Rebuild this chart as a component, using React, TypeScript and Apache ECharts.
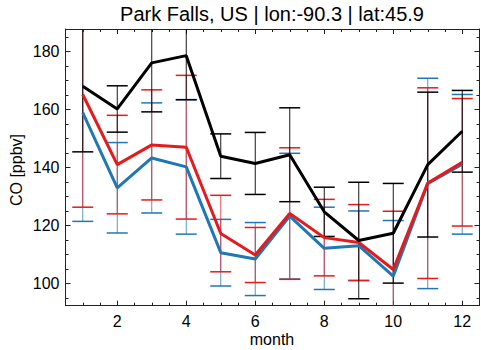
import React, { useEffect, useRef } from "react";
import * as echarts from "echarts";

const months = [1, 2, 3, 4, 5, 6, 7, 8, 9, 10, 11, 12];
const blackMean = [168.0, 160.2, 176.1, 178.6, 143.9, 141.4, 144.4, 124.7, 114.8, 117.3, 141.0, 152.5];
const blackErr = [22.6, 8.0, 16.9, 15.2, 7.7, 10.7, 16.2, 8.5, 20.1, 17.2, 25.0, 14.1];
const redMean = [165.2, 141.0, 147.8, 147.0, 117.2, 109.8, 124.1, 115.8, 114.1, 104.8, 134.6, 141.8];
const redErr = [38.9, 17.0, 19.0, 24.8, 13.2, 9.5, 22.7, 13.2, 13.1, 20.1, 32.9, 22.0];
const blueMean = [158.9, 133.0, 143.3, 140.2, 110.6, 108.4, 123.2, 112.1, 113.0, 102.5, 134.5, 141.1];
const blueErr = [37.5, 15.6, 19.0, 23.2, 11.5, 12.6, 21.7, 14.2, 12.0, 19.2, 36.3, 24.1];

const xMajor = [2, 4, 6, 8, 10, 12];
const xMinor = [1, 1.5, 2.5, 3, 3.5, 4.5, 5, 5.5, 6.5, 7, 7.5, 8.5, 9, 9.5, 10.5, 11, 11.5];
const yMajor = [100, 120, 140, 160, 180];
const yMinor = [95, 105, 110, 115, 125, 130, 135, 145, 150, 155, 165, 170, 175, 185];

const titleText = "Park Falls, US | lon:-90.3 | lat:45.9";
const yName = "CO [ppbv]";
const xName = "month";

const X_MIN = 0.5;
const X_MAX = 12.5;
const Y_MIN = 92.3;
const Y_MAX = 187.8;

const BLACK = "#000000";
const RED = "#e41a1c";
const BLUE = "#1f77b4";
const FONT = "Liberation Sans, Arial, Helvetica, sans-serif";

export default function App() {
  const ref = useRef<HTMLDivElement>(null);
  useEffect(() => {
    if (!ref.current) return;
    const chart = echarts.init(ref.current, undefined, { renderer: "svg" });

    const makeAxis = (
      kind: "x" | "y",
      position: string,
      ticks: number[],
      len: number,
      showLine: boolean,
      labels: boolean
    ) => ({
      type: "value",
      position,
      min: kind === "x" ? X_MIN : Y_MIN,
      max: kind === "x" ? X_MAX : Y_MAX,
      splitLine: { show: false },
      axisLine: { show: showLine, onZero: false, lineStyle: { color: "#222", width: 1 } },
      axisTick: {
        show: true,
        inside: true,
        length: len,
        customValues: ticks,
        lineStyle: { color: "#222", width: 1 },
      },
      axisLabel: {
        show: labels,
        customValues: ticks,
        color: "#000",
        fontSize: 16,
        fontFamily: FONT,
        margin: kind === "x" ? 8 : 6,
      },
    });

    const errSeries = (data: number[], err: number[], color: string, stemOpacity: number) => ({
      type: "custom",
      xAxisIndex: 0,
      yAxisIndex: 0,
      data: months.map((m, i) => [m, data[i], err[i]]),
      renderItem: (params: any, api: any) => {
        const x = api.value(0);
        const m = api.value(1);
        const s = api.value(2);
        const lo = m - s;
        const hi = m + s;
        const cl = Math.max(lo, Y_MIN);
        const ch = Math.min(hi, Y_MAX);
        const p1 = api.coord([x, cl]);
        const p2 = api.coord([x, ch]);
        const children: any[] = [
          {
            type: "line",
            shape: { x1: p1[0], y1: p1[1], x2: p2[0], y2: p2[1] },
            style: { stroke: color, lineWidth: 1, opacity: stemOpacity },
          },
        ];
        const hw = 10.5;
        if (hi <= Y_MAX) {
          const p = api.coord([x, hi]);
          children.push({
            type: "line",
            shape: { x1: p[0] - hw, y1: p[1], x2: p[0] + hw, y2: p[1] },
            style: { stroke: color, lineWidth: 1.5 },
          });
        }
        if (lo >= Y_MIN) {
          const p = api.coord([x, lo]);
          children.push({
            type: "line",
            shape: { x1: p[0] - hw, y1: p[1], x2: p[0] + hw, y2: p[1] },
            style: { stroke: color, lineWidth: 1.5 },
          });
        }
        return { type: "group", children };
      },
      z: 2,
    });

    const lineSeries = (data: number[], color: string, z: number) => ({
      type: "line",
      xAxisIndex: 0,
      yAxisIndex: 0,
      data: months.map((m, i) => [m, data[i]]),
      showSymbol: false,
      symbol: "none",
      lineStyle: { color, width: 3 },
      itemStyle: { color },
      z,
    });

    chart.setOption({
      animation: false,
      backgroundColor: "#ffffff",
      grid: { left: 65.5, right: 1.5, top: 29, bottom: 44.3, containLabel: false },
      xAxis: [
        makeAxis("x", "bottom", xMajor, 5, true, true),
        makeAxis("x", "bottom", xMinor, 3, false, false),
        makeAxis("x", "top", xMajor, 5, true, false),
        makeAxis("x", "top", xMinor, 3, false, false),
      ],
      yAxis: [
        makeAxis("y", "left", yMajor, 5, true, true),
        makeAxis("y", "left", yMinor, 3, false, false),
        makeAxis("y", "right", yMajor, 5, true, false),
        makeAxis("y", "right", yMinor, 3, false, false),
      ],
      graphic: [
        {
          type: "text",
          x: 272,
          y: 14,
          style: {
            text: titleText,
            fontSize: 20,
            fontFamily: FONT,
            fill: "#000",
            align: "center",
            verticalAlign: "middle",
          },
        },
        {
          type: "text",
          x: 16,
          y: 170,
          rotation: Math.PI / 2,
          style: {
            text: yName,
            fontSize: 16,
            fontFamily: FONT,
            fill: "#000",
            align: "center",
            verticalAlign: "middle",
          },
        },
        {
          type: "text",
          x: 272,
          y: 339,
          style: {
            text: xName,
            fontSize: 16,
            fontFamily: FONT,
            fill: "#000",
            align: "center",
            verticalAlign: "middle",
          },
        },
      ],
      series: [
        errSeries(blueMean, blueErr, BLUE, 0.75),
        errSeries(redMean, redErr, RED, 0.75),
        errSeries(blackMean, blackErr, BLACK, 0.9),
        lineSeries(blueMean, BLUE, 3),
        lineSeries(redMean, RED, 4),
        lineSeries(blackMean, BLACK, 5),
      ],
    });
    return () => chart.dispose();
  }, []);
  return (
    <div
      ref={ref}
      style={{ position: "fixed", left: 0, top: 0, width: 481, height: 350, background: "#fff" }}
    />
  );
}
